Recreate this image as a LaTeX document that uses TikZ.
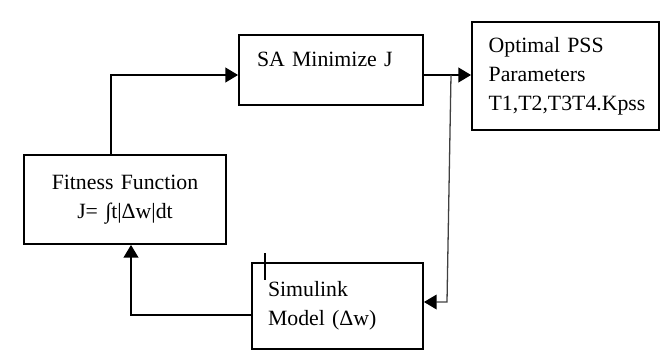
\documentclass[tikz,border=0pt]{standalone}
\usepackage{fontspec}
\setmainfont{Liberation Serif}
\usepackage{tikz}
\usetikzlibrary{positioning, arrows.meta}

\begin{document}
\begin{tikzpicture}[
    block/.style={draw, rectangle, line width=1.6pt, font=\fontsize{18.6}{24.7}\selectfont},
    arr/.style={line width=1.6pt, -{Triangle[length=0.38cm, width=0.44cm]}},
    fb/.style={line width=1.1pt, draw=black!75, -{Triangle[length=0.38cm, width=0.44cm, color=black]}},
]
\useasboundingbox (0,0) rectangle (19.86,-10.5);

\node[block, minimum width=5.52cm, minimum height=2.10cm, text width=4.44cm, inner xsep=0.54cm,
      align=left, text height=0.5cm, text depth=0.74cm] (sa) at (9.93,-2.10) {SA Minimize J};
\node[block, minimum width=5.61cm, minimum height=3.24cm, text width=4.61cm, inner xsep=0.5cm,
      align=left] (opt) at (16.965,-2.28) {Optimal PSS\\Parameters\\T1,T2,T3T4.Kpss};
\node[block, minimum width=6.06cm, minimum height=2.67cm, text width=5.46cm, inner xsep=0.3cm,
      align=center] (fit) at (3.75,-5.985) {Fitness Function\\J= ∫t|Δw|dt};
\node[block, minimum width=5.13cm, minimum height=2.58cm, text width=4.17cm, inner xsep=0.48cm,
      align=left] (sim) at (10.125,-9.18) {Simulink\\Model (Δw)};

\coordinate (bend) at (3.33,-2.25);
\coordinate (tap) at (13.53,-2.25);
\coordinate (down) at (13.41,-9.06);
\coordinate (ret) at (3.93,-9.45);

\draw[arr] (fit.north -| bend) |- (sa.west |- bend);
\draw[arr] (sa.east |- bend) -- (opt.west |- bend);
\draw[fb] (tap) -- (down) -- (sim.east |- down);
\draw[arr] (sim.west |- ret) -| (fit.south -| ret);

% cursor mark on the model box
\draw[line width=2.4pt] (7.95,-7.59) -- (7.95,-8.4);
\end{tikzpicture}
\end{document}
